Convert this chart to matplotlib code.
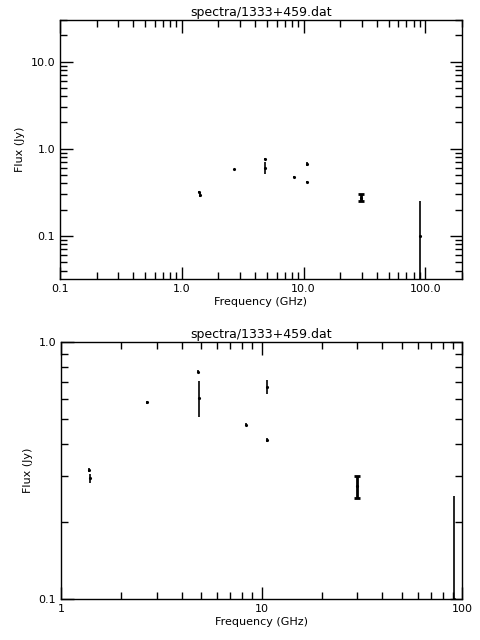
import matplotlib
matplotlib.use("Agg")
import matplotlib.pyplot as plt
from matplotlib.ticker import FixedLocator, NullFormatter, LogLocator
import numpy as np

freq = [1.38, 1.40, 2.67, 4.84, 4.86, 8.34, 10.7, 10.7, 29.8, 90.9]
flux = [0.318, 0.295, 0.582, 0.766, 0.607, 0.477, 0.67, 0.417, 0.274, 0.10]
err = [0.006, 0.012, 0.008, 0.01, 0.095, 0.006, 0.04, 0.008, 0.026, 0.152]
capped = [False, False, False, False, False, False, False, False, True, False]
title = "spectra/1333+459.dat"

plt.rcParams["font.family"] = "DejaVu Sans"
plt.rcParams["font.size"] = 8

fig = plt.figure(figsize=(4.8, 6.4), dpi=100)
ax1 = fig.add_axes([60 / 480, 1 - 279 / 640, 402 / 480, 259 / 640])
ax2 = fig.add_axes([61 / 480, 1 - 599 / 640, 401 / 480, 257 / 640])


def draw(ax, xlim, ylim, xticks, xlabels, yticks, ylabels):
    f = np.array(freq)
    s = np.array(flux)
    e = np.array(err)
    c = np.array(capped)
    lo = np.minimum(e, s - 1e-4)
    ax.errorbar(f[~c], s[~c], yerr=[lo[~c], e[~c]], fmt="none", ecolor="black", elinewidth=1.2, capsize=0)
    ax.errorbar(f[c], s[c], yerr=[lo[c], e[c]], fmt="none", ecolor="black", elinewidth=2,
                capsize=2.5, capthick=2)
    ax.plot(f, s, "k.", markersize=2.5)
    ax.set_xscale("log")
    ax.set_yscale("log")
    ax.set_xlim(*xlim)
    ax.set_ylim(*ylim)
    ax.xaxis.set_major_locator(FixedLocator(xticks))
    ax.set_xticklabels(xlabels)
    ax.yaxis.set_major_locator(FixedLocator(yticks))
    ax.set_yticklabels(ylabels)
    ax.xaxis.set_minor_locator(LogLocator(base=10, subs=np.arange(2, 10)))
    ax.yaxis.set_minor_locator(LogLocator(base=10, subs=np.arange(2, 10)))
    ax.xaxis.set_minor_formatter(NullFormatter())
    ax.yaxis.set_minor_formatter(NullFormatter())
    ax.tick_params(which="both", direction="in", top=True, right=True, width=1)
    ax.tick_params(which="major", length=9)
    ax.tick_params(which="minor", length=5)
    for sp in ax.spines.values():
        sp.set_linewidth(1)
    ax.set_title(title, fontsize=9, pad=3)
    ax.set_xlabel("Frequency (GHz)", fontsize=8, labelpad=2)
    ax.set_ylabel("Flux (Jy)", fontsize=8)


draw(ax1, (0.1, 200), (0.032, 30), [0.1, 1, 10, 100], ["0.1", "1.0", "10.0", "100.0"],
     [0.1, 1, 10], ["0.1", "1.0", "10.0"])
draw(ax2, (1, 100), (0.1, 1), [1, 10, 100], ["1", "10", "100"],
     [0.1, 1], ["0.1", "1.0"])

fig.savefig("out.png", dpi=100)
